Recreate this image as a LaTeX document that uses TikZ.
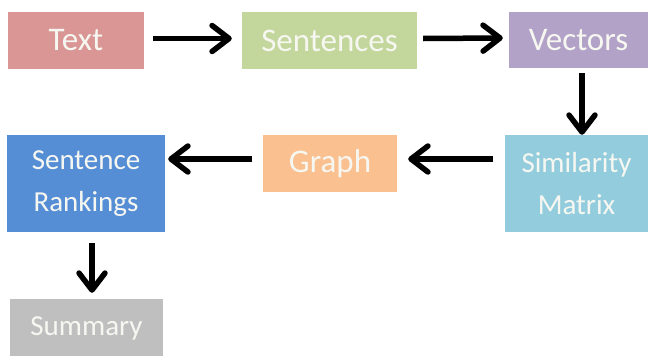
\documentclass[tikz,border=0pt]{standalone}
\usepackage{fontspec}
\setmainfont{Carlito}
\usetikzlibrary{arrows.meta}
\definecolor{cText}{HTML}{D99694}
\definecolor{cSent}{HTML}{C3D69B}
\definecolor{cVec}{HTML}{B3A2C7}
\definecolor{cSim}{HTML}{93CDDD}
\definecolor{cGraph}{HTML}{FAC090}
\definecolor{cRank}{HTML}{558ED5}
\definecolor{cSum}{HTML}{BFBFBF}
\definecolor{cLabel}{HTML}{F7F7F2}
\tikzset{
  box/.style={rectangle, inner sep=0pt, text=cLabel, align=center},
  big/.style={font=\fontsize{33}{40}\selectfont},
  small/.style={font=\fontsize{29}{42}\selectfont},
  arr/.style={line width=5.5pt, -{Straight Barb[length=17pt,width=26pt,round]}},
}
\begin{document}
\begin{tikzpicture}[x=1pt,y=-1pt]
\useasboundingbox (0,0) rectangle (651,356);
\node[box,big,fill=cText,minimum width=136pt,minimum height=57pt] (text) at (76,40.5) {Text};
\node[box,big,fill=cSent,minimum width=175pt,minimum height=57pt] (sent) at (329.5,40.5) {Sentences};
\node[box,big,fill=cVec,minimum width=139pt,minimum height=56pt] (vec) at (578.5,40) {Vectors};
\node[box,small,fill=cSim,minimum width=143pt,minimum height=97pt] (sim) at (576.5,183.5) {Similarity\\Matrix};
\node[box,big,fill=cGraph,minimum width=134pt,minimum height=57pt] (graph) at (330,163.5) {Graph};
\node[box,small,fill=cRank,minimum width=158pt,minimum height=97pt] (rank) at (86,183.5) {Sentence\\Rankings};
\node[box,small,fill=cSum,minimum width=153pt,minimum height=59pt] (sum) at (86.5,328.5) {Summary};
\draw[arr] ([xshift=9pt,yshift=2pt]text.east) -- ([xshift=-10pt,yshift=2pt]sent.west);
\draw[arr] ([xshift=6pt,yshift=2pt]sent.east) -- ([xshift=-6pt,yshift=2pt]vec.west);
\draw[arr] ([xshift=3.5pt,yshift=-5pt]vec.south) -- ([xshift=5.5pt]sim.north);
\draw[arr] ([xshift=-12pt,yshift=24.5pt]sim.west) -- ([xshift=11pt,yshift=4.5pt]graph.east);
\draw[arr] ([xshift=-11pt,yshift=4.5pt]graph.west) -- ([xshift=3pt,yshift=24.5pt]rank.east);
\draw[arr] ([xshift=6pt,yshift=-11pt]rank.south) -- ([xshift=5.5pt,yshift=6pt]sum.north);
\end{tikzpicture}
\end{document}
